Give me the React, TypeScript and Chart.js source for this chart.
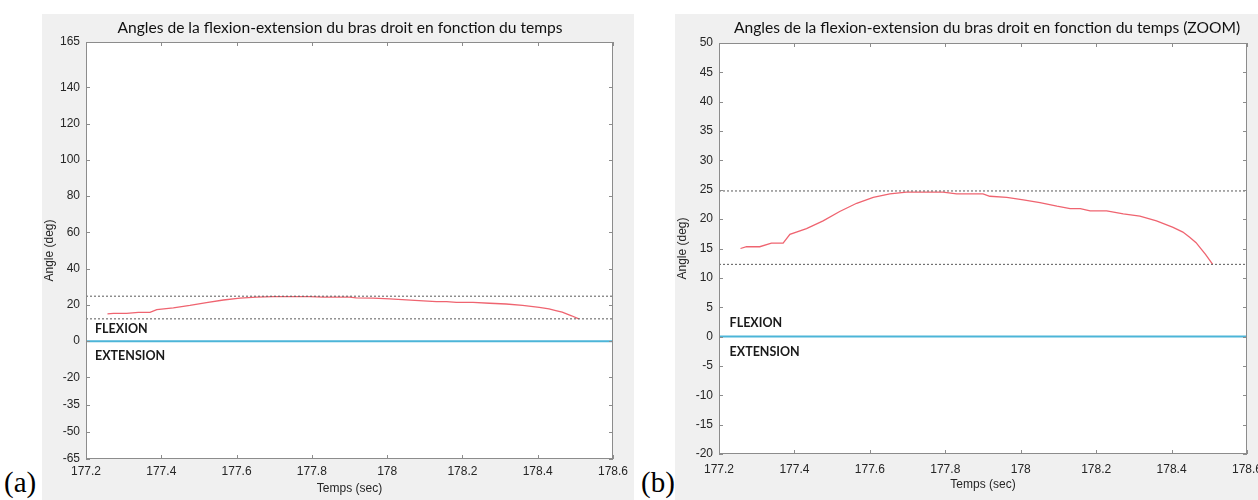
import React, { useEffect, useRef } from "react";
import { Chart, registerables } from "chart.js";

Chart.register(...registerables);

// ---- data ----
const TIME = [
  177.257, 177.273, 177.308, 177.339, 177.37, 177.388, 177.432, 177.476, 177.52, 177.565,
  177.609, 177.653, 177.697, 177.794, 177.83, 177.9, 177.918, 177.963, 178.007, 178.051,
  178.096, 178.131, 178.158, 178.184, 178.228, 178.272, 178.316, 178.36, 178.404, 178.43,
  178.448, 178.465, 178.475, 178.49, 178.509,
];
const ANGLE = [
  15.0, 15.3, 15.3, 15.9, 15.9, 17.4, 18.4, 19.7, 21.3, 22.7,
  23.7, 24.3, 24.6, 24.6, 24.3, 24.3, 23.9, 23.7, 23.3, 22.8,
  22.2, 21.8, 21.8, 21.4, 21.4, 20.9, 20.5, 19.7, 18.6, 17.8,
  16.9, 16.0, 15.2, 14.0, 12.3,
];
const UPPER_LIMIT = 24.8;
const LOWER_LIMIT = 12.3;
const ZERO_LINE = 0;

const X_TICKS = [177.2, 177.4, 177.6, 177.8, 178, 178.2, 178.4, 178.6];
const Y_TICKS_FULL = [-65, -50, -35, -20, 0, 20, 40, 60, 80, 100, 120, 140, 165];
const Y_TICKS_ZOOM = [-20, -15, -10, -5, 0, 5, 10, 15, 20, 25, 30, 35, 40, 45, 50];

const TITLE_FULL = "Angles de la flexion-extension du bras droit en fonction du temps";
const TITLE_ZOOM = "Angles de la flexion-extension du bras droit en fonction du temps (ZOOM)";
const X_LABEL = "Temps (sec)";
const Y_LABEL = "Angle (deg)";
const FLEX_LABEL = "FLEXION";
const EXT_LABEL = "EXTENSION";

// ---- styles ----
const RED = "#ef6470";
const CYAN = "#4cb5d8";
const DASH = "#5a5a5a";
const FRAME = "#8c8c8c";
const TEXT = "#262626";
const GREY_BG = "#f0f0f0";
const TICK_FONT = { family: "'Liberation Sans', Arial, sans-serif", size: 12 };

const framePlugin = {
  id: "matlabFrame",
  beforeDraw(chart: any) {
    const { ctx, chartArea: a } = chart;
    ctx.save();
    ctx.fillStyle = "#ffffff";
    ctx.fillRect(a.left, a.top, a.right - a.left, a.bottom - a.top);
    ctx.restore();
  },
  afterDatasetsDraw(chart: any, _args: any, o: any) {
    const { ctx, chartArea: a } = chart;
    const xs = chart.scales.x;
    const ys = chart.scales.y;
    const L = 4;
    ctx.save();
    ctx.strokeStyle = FRAME;
    ctx.lineWidth = 1;
    ctx.strokeRect(Math.round(a.left) + 0.5, Math.round(a.top) + 0.5, Math.round(a.right - a.left) - 1, Math.round(a.bottom - a.top) - 1);
    ctx.beginPath();
    xs.ticks.forEach((t: any) => {
      const px = Math.round(xs.getPixelForValue(t.value)) + 0.5;
      ctx.moveTo(px, a.bottom);
      ctx.lineTo(px, a.bottom - L);
      ctx.moveTo(px, a.top);
      ctx.lineTo(px, a.top + L);
    });
    ys.ticks.forEach((t: any) => {
      const py = Math.round(ys.getPixelForValue(t.value)) + 0.5;
      ctx.moveTo(a.left, py);
      ctx.lineTo(a.left + L, py);
      ctx.moveTo(a.right, py);
      ctx.lineTo(a.right - L, py);
    });
    ctx.stroke();

    // region annotations
    ctx.fillStyle = "#1a1a1a";
    ctx.font = "bold 12.5px Lato, 'Open Sans', sans-serif";
    ctx.textAlign = "left";
    ctx.textBaseline = "middle";
    ctx.fillText(FLEX_LABEL, xs.getPixelForValue(o.labelX), ys.getPixelForValue(o.flexY));
    ctx.fillText(EXT_LABEL, xs.getPixelForValue(o.labelX), ys.getPixelForValue(o.extY));

    // title
    ctx.fillStyle = "#111111";
    ctx.font = `${o.titleSize}px Lato, 'Open Sans', sans-serif`;
    ctx.textAlign = "center";
    ctx.textBaseline = "middle";
    ctx.fillText(o.title, o.titleX, o.titleY);
    ctx.restore();
  },
};

function makeDatasets() {
  const x0 = X_TICKS[0];
  const x1 = X_TICKS[X_TICKS.length - 1];
  return [
    {
      label: "zero",
      data: [{ x: x0, y: ZERO_LINE }, { x: x1, y: ZERO_LINE }],
      borderColor: CYAN,
      borderWidth: 2,
    },
    {
      label: "upper",
      data: [{ x: x0, y: UPPER_LIMIT }, { x: x1, y: UPPER_LIMIT }],
      borderColor: DASH,
      borderWidth: 1,
      borderDash: [2, 2],
    },
    {
      label: "lower",
      data: [{ x: x0, y: LOWER_LIMIT }, { x: x1, y: LOWER_LIMIT }],
      borderColor: DASH,
      borderWidth: 1,
      borderDash: [2, 2],
    },
    {
      label: "angle",
      data: TIME.map((t, i) => ({ x: t, y: ANGLE[i] })),
      borderColor: RED,
      borderWidth: 1.3,
    },
  ];
}

type PanelProps = {
  width: number;
  height: number;
  pad: { top: number; right: number; bottom: number; left: number };
  yAxisWidth: number;
  xAxisHeight: number;
  yMin: number;
  yMax: number;
  yTicks: number[];
  xTickPad: number;
  xTitlePad: number;
  frame: any;
};

function Panel(p: PanelProps) {
  const ref = useRef<HTMLCanvasElement | null>(null);
  useEffect(() => {
    if (!ref.current) return;
    const chart = new Chart(ref.current, {
      type: "line",
      data: { datasets: makeDatasets() as any },
      options: {
        animation: false,
        responsive: false,
        maintainAspectRatio: false,
        devicePixelRatio: 1,
        layout: { padding: p.pad },
        elements: { point: { radius: 0 }, line: { tension: 0 } },
        plugins: {
          legend: { display: false },
          tooltip: { enabled: false },
          title: { display: false },
          matlabFrame: p.frame,
        } as any,
        scales: {
          x: {
            type: "linear",
            min: X_TICKS[0],
            max: X_TICKS[X_TICKS.length - 1],
            afterBuildTicks: (s: any) => {
              s.ticks = X_TICKS.map((v) => ({ value: v }));
            },
            afterFit: (s: any) => {
              s.height = p.xAxisHeight;
              s.paddingLeft = 0;
              s.paddingRight = 0;
            },
            grid: { display: false, drawTicks: false },
            border: { display: false },
            ticks: {
              autoSkip: false,
              maxRotation: 0,
              padding: p.xTickPad,
              color: TEXT,
              font: TICK_FONT,
              callback: (v: any) => String(Number(Number(v).toFixed(1))),
            },
            title: {
              display: true,
              text: X_LABEL,
              color: TEXT,
              font: { ...TICK_FONT, size: 12 },
              padding: { top: 0, bottom: p.xTitlePad },
            },
          },
          y: {
            type: "linear",
            min: p.yMin,
            max: p.yMax,
            afterBuildTicks: (s: any) => {
              s.ticks = p.yTicks.map((v) => ({ value: v }));
            },
            afterFit: (s: any) => {
              s.width = p.yAxisWidth;
              s.paddingTop = 0;
              s.paddingBottom = 0;
            },
            grid: { display: false, drawTicks: false },
            border: { display: false },
            ticks: {
              autoSkip: false,
              padding: 6,
              color: TEXT,
              font: TICK_FONT,
              callback: (v: any) => String(v),
            },
            title: {
              display: true,
              text: Y_LABEL,
              color: TEXT,
              font: { ...TICK_FONT, size: 12 },
              padding: { top: 0, bottom: 0 },
            },
          },
        },
      } as any,
      plugins: [framePlugin as any],
    });
    return () => chart.destroy();
  }, []);
  return (
    <canvas
      ref={ref}
      width={p.width}
      height={p.height}
      style={{ display: "block", width: p.width, height: p.height, background: GREY_BG }}
    />
  );
}

export default function App() {
  return (
    <div
      style={{
        position: "absolute",
        left: 0,
        top: 0,
        width: 1258,
        height: 500,
        background: "#ffffff",
        overflow: "hidden",
      }}
    >
      <div style={{ position: "absolute", left: 42, top: 14 }}>
        <Panel
          width={592}
          height={486}
          pad={{ top: 28, right: 21, bottom: 0, left: 0 }}
          yAxisWidth={44}
          xAxisHeight={41}
          yMin={-65}
          yMax={165}
          yTicks={Y_TICKS_FULL}
          xTickPad={5}
          xTitlePad={4}
          frame={{
            labelX: 177.224,
            flexY: 6.7,
            extY: -8.2,
            title: TITLE_FULL,
            titleX: 298,
            titleY: 14,
            titleSize: 15.6,
          }}
        />
      </div>
      <div style={{ position: "absolute", left: 675, top: 14 }}>
        <Panel
          width={583}
          height={486}
          pad={{ top: 29, right: 11, bottom: 0, left: 0 }}
          yAxisWidth={44}
          xAxisHeight={46}
          yMin={-20}
          yMax={50}
          yTicks={Y_TICKS_ZOOM}
          xTickPad={8}
          xTitlePad={8}
          frame={{
            labelX: 177.228,
            flexY: 2.3,
            extY: -2.6,
            title: TITLE_ZOOM,
            titleX: 312,
            titleY: 14,
            titleSize: 15.6,
          }}
        />
      </div>
      <div
        style={{
          position: "absolute",
          left: 4,
          top: 465,
          fontFamily: "'Liberation Serif', 'Times New Roman', serif",
          fontSize: 29,
          lineHeight: "34px",
          color: "#000",
        }}
      >
        (a)
      </div>
      <div
        style={{
          position: "absolute",
          left: 641,
          top: 465,
          fontFamily: "'Liberation Serif', 'Times New Roman', serif",
          fontSize: 29,
          lineHeight: "34px",
          color: "#000",
        }}
      >
        (b)
      </div>
    </div>
  );
}
